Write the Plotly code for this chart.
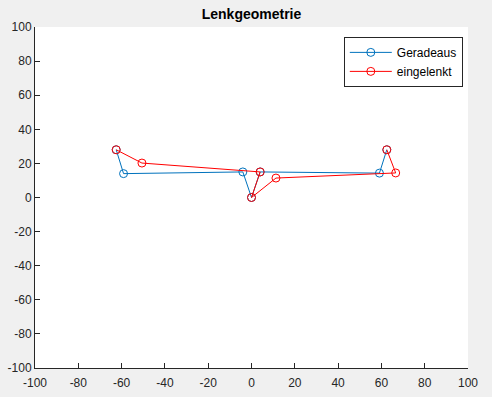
import plotly.graph_objects as go

# Data
geradeaus_x = [-62.5, -59.1, -4.0, 0.0, 4.0, 59.1, 62.5]
geradeaus_y = [28.0, 14.0, 15.0, 0.0, 15.0, 14.3, 28.0]
eingelenkt_x = [-62.5, -50.6, 4.0, 0.0, 11.3, 66.6, 62.5]
eingelenkt_y = [28.0, 20.2, 15.0, 0.0, 11.4, 14.4, 28.0]
tick_vals = [-100, -80, -60, -40, -20, 0, 20, 40, 60, 80, 100]
tick_text = ["-100", "-80", "-60", "-40", "-20", "0", "20", "40", "60", "80", "100"]

font_family = "Arial, Liberation Sans, Helvetica, sans-serif"
axis_color = "#262626"

fig = go.Figure()
fig.add_trace(go.Scatter(
    x=geradeaus_x, y=geradeaus_y, mode="lines+markers", name="Geradeaus",
    line=dict(color="#0072BD", width=1),
    marker=dict(symbol="circle-open", size=8, color="#0072BD", line=dict(width=1)),
))
fig.add_trace(go.Scatter(
    x=eingelenkt_x, y=eingelenkt_y, mode="lines+markers", name="eingelenkt",
    line=dict(color="#FF0000", width=1),
    marker=dict(symbol="circle-open", size=8, color="#FF0000", line=dict(width=1)),
))

axis_common = dict(
    range=[-100, 100], tickvals=tick_vals, ticktext=tick_text,
    ticks="inside", ticklen=5, automargin=False,
    tickcolor=axis_color, showline=True, linecolor=axis_color, linewidth=1,
    showgrid=False, zeroline=False, mirror=False,
    tickfont=dict(family=font_family, size=12, color=axis_color),
)

fig.update_layout(
    width=492, height=397,
    paper_bgcolor="#f0f0f0", plot_bgcolor="white",
    margin=dict(l=35, r=24, t=27, b=29, autoexpand=False),
    title=dict(text="<b>Lenkgeometrie</b>", x=0.5, xref="paper", xanchor="center",
               y=1 - 14 / 397, yanchor="middle",
               font=dict(family=font_family, size=14, color="black")),
    xaxis=dict(**axis_common, ticklabelstandoff=4),
    yaxis=dict(**axis_common),
    showlegend=True,
    legend=dict(x=0.988, y=0.971, xanchor="right", yanchor="top",
                bgcolor="white", bordercolor=axis_color, borderwidth=1,
                font=dict(family=font_family, size=12, color="black"),
                tracegroupgap=0, itemwidth=42),
)

fig.write_html(
    "out.html",
    config={"displayModeBar": False},
    post_script="document.body.style.margin='0';document.body.style.background='#f0f0f0';",
)
